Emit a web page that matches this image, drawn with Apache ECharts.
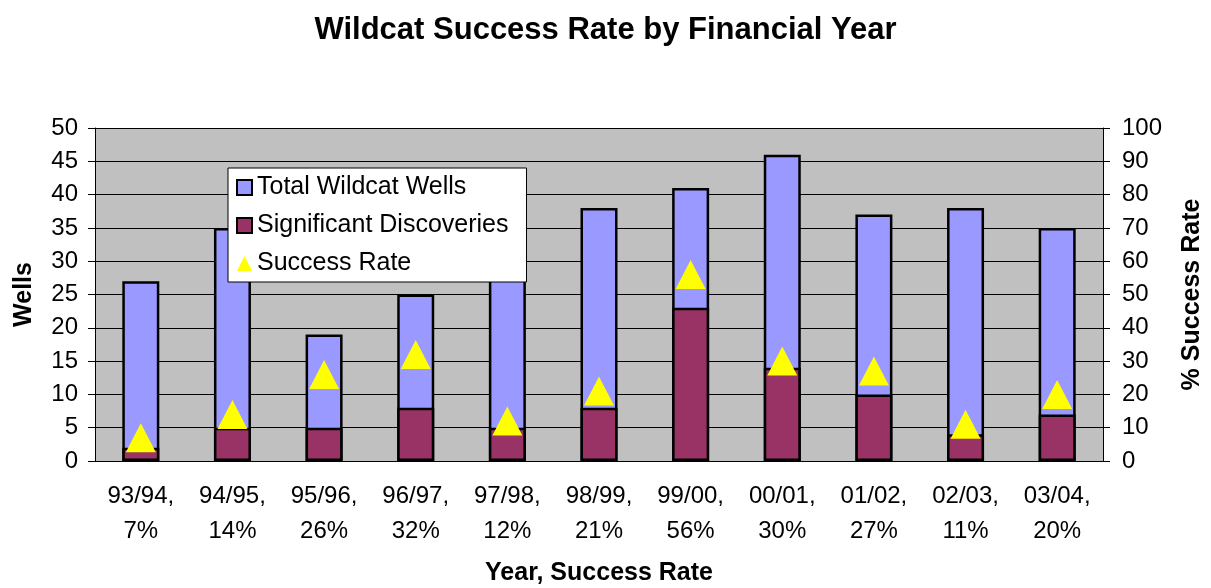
<!DOCTYPE html>
<html>
<head>
<meta charset="utf-8">
<script src="https://cdn.jsdelivr.net/npm/echarts@6/dist/echarts.min.js"></script>
<style>
  html, body { margin: 0; padding: 0; background: #fff; }
  #chart { width: 1211px; height: 588px; }
</style>
</head>
<body>
<div id="chart"></div>
<script>
var years = ['93/94', '94/95', '95/96', '96/97', '97/98', '98/99', '99/00', '00/01', '01/02', '02/03', '03/04'];
var totalWells = [27, 35, 19, 25, 42, 38, 41, 46, 37, 38, 35];
var discoveries = [2, 5, 5, 8, 5, 8, 23, 14, 10, 4, 7];
var successRate = [7, 14, 26, 32, 12, 21, 56, 30, 27, 11, 20];

var categories = years.map(function (y, i) {
    return y + ',\n' + successRate[i] + '%';
});

var chartDom = document.getElementById('chart');
var myChart = echarts.init(chartDom);

var font = 'Liberation Sans, Arial, sans-serif';

var option = {
    animation: false,
    title: {
        text: 'Wildcat Success Rate by Financial Year',
        left: 'center',
        top: 10,
        textStyle: {
            fontFamily: font,
            fontSize: 31,
            fontWeight: 'bold',
            color: '#000'
        }
    },
    legend: {
        orient: 'vertical',
        left: 228,
        top: 168,
        padding: [7, 18, 6, 8],
        itemGap: 13,
        itemWidth: 15,
        itemHeight: 15,
        backgroundColor: '#fff',
        borderColor: '#000',
        borderWidth: 1,
        z: 10,
        textStyle: {
            fontFamily: font,
            fontSize: 25,
            color: '#000',
            padding: [0, 0, 0, 0]
        },
        data: [
            {name: 'Total Wildcat Wells', icon: 'rect'},
            {name: 'Significant Discoveries', icon: 'rect'},
            {name: 'Success Rate', icon: 'triangle', itemStyle: {borderWidth: 0}}
        ]
    },
    grid: {
        left: 95,
        right: 108,
        top: 128,
        bottom: 127,
        outerBoundsMode: 'none',
        show: true,
        backgroundColor: '#C0C0C0',
        borderWidth: 0
    },
    xAxis: {
        type: 'category',
        data: categories,
        name: 'Year, Success Rate',
        nameLocation: 'middle',
        nameGap: 100,
        nameTextStyle: {
            fontFamily: font,
            fontSize: 25,
            fontWeight: 'bold',
            color: '#000'
        },
        axisLine: {lineStyle: {color: '#000', width: 1}},
        axisTick: {length: 7, lineStyle: {color: '#000'}},
        axisLabel: {
            fontFamily: font,
            fontSize: 24,
            color: '#000',
            lineHeight: 35,
            margin: 18
        }
    },
    yAxis: [
        {
            type: 'value',
            min: 0,
            max: 50,
            interval: 5,
            name: 'Wells',
            nameLocation: 'middle',
            nameGap: 58,
            nameRotate: 90,
            nameTextStyle: {
                fontFamily: font,
                fontSize: 25,
                fontWeight: 'bold',
                color: '#000'
            },
            axisLine: {show: true, lineStyle: {color: '#000'}},
            axisTick: {show: true, length: 7, lineStyle: {color: '#000'}},
            axisLabel: {fontFamily: font, fontSize: 24, color: '#000', margin: 17},
            splitLine: {show: true, lineStyle: {color: '#000', width: 1}}
        },
        {
            type: 'value',
            min: 0,
            max: 100,
            interval: 10,
            name: '% Success Rate',
            nameLocation: 'middle',
            nameGap: 77,
            nameRotate: 90,
            nameTextStyle: {
                fontFamily: font,
                fontSize: 25,
                fontWeight: 'bold',
                color: '#000'
            },
            axisLine: {show: true, lineStyle: {color: '#000'}},
            axisTick: {show: true, length: 7, lineStyle: {color: '#000'}},
            axisLabel: {fontFamily: font, fontSize: 24, color: '#000', margin: 19},
            splitLine: {show: false}
        }
    ],
    series: [
        {
            name: 'Total Wildcat Wells',
            type: 'bar',
            data: totalWells,
            barWidth: 37,
            barGap: '-100%',
            itemStyle: {color: '#9999FF', borderColor: '#000', borderWidth: 2.5}
        },
        {
            name: 'Significant Discoveries',
            type: 'bar',
            data: discoveries,
            barWidth: 37,
            itemStyle: {color: '#993366', borderColor: '#000', borderWidth: 2.5}
        },
        {
            name: 'Success Rate',
            type: 'scatter',
            yAxisIndex: 1,
            data: successRate,
            symbol: 'triangle',
            symbolSize: [30, 29],
            itemStyle: {color: '#FFFF00', opacity: 1},
            z: 5
        }
    ]
};

myChart.setOption(option);
</script>
</body>
</html>
